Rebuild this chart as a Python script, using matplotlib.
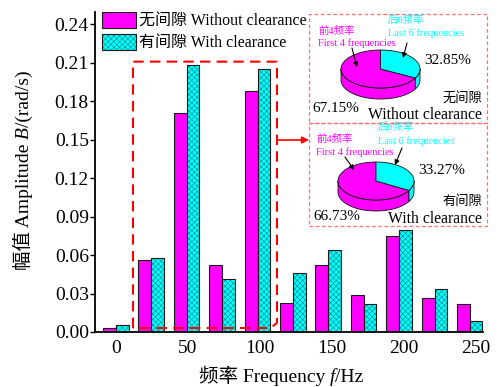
import numpy as np
import matplotlib
matplotlib.use("Agg")
import matplotlib.pyplot as plt
from matplotlib.patches import Polygon, Rectangle, FancyArrowPatch
from matplotlib.legend_handler import HandlerTuple
from matplotlib.transforms import IdentityTransform

# ---------------- data ----------------
freqs = [0, 24.3, 49.2, 73.6, 98.4, 122.9, 147.2, 172.0, 196.5, 221.3, 245.8]
amp_without = [0.003, 0.056, 0.171, 0.052, 0.188, 0.0226, 0.052, 0.0288, 0.0748, 0.0265, 0.0218]
amp_with = [0.0055, 0.0576, 0.208, 0.0413, 0.2046, 0.046, 0.064, 0.0218, 0.0797, 0.0335, 0.0088]
yticks = [0.00, 0.03, 0.06, 0.09, 0.12, 0.15, 0.18, 0.21, 0.24]
xticks = [0, 50, 100, 150, 200, 250]
pie_without = [67.15, 32.85]   # first 4, last 6
pie_with = [66.73, 33.27]
series_labels = ["无间隙 Without clearance", "有间隙 With clearance"]

# ---------------- style ----------------
FAM = ['Liberation Serif', 'Noto Sans CJK SC']
plt.rcParams['font.family'] = FAM
plt.rcParams['hatch.linewidth'] = 0.45

MAG = '#ff00ff'
CYA = '#00ffff'
HATCH_C = '#0a8f8f'

W, H = 503, 387
fig = plt.figure(figsize=(W / 100, H / 100), dpi=100)
ax = fig.add_axes([95 / W, 1 - 332 / H, 388 / W, 320 / H])

x = np.array(freqs)
bw = 8.7
off = 4.4
ax.bar(x - off, amp_without, width=bw, color=MAG, edgecolor='#1a1a1a', lw=0.8, zorder=2)
ax.bar(x + off, amp_with, width=bw, color=CYA, edgecolor=HATCH_C, hatch='xxxxxx', lw=0, zorder=2)
ax.bar(x + off, amp_with, width=bw, fill=False, edgecolor='#1a1a1a', lw=0.8, zorder=3)

ax.set_xlim(-14.6, 254.9)
ax.set_ylim(0, 0.2494)
ax.set_yticks(yticks)
ax.set_yticklabels([f"{v:.2f}" for v in yticks])
ax.set_xticks(xticks)
ax.set_xticklabels([str(v) for v in xticks])
ax.tick_params(axis='y', direction='out', length=3.5, width=1, pad=1, labelsize=14)
ax.tick_params(axis='x', direction='in', length=4, width=1, pad=6, labelsize=14)
for s in ['top', 'right']:
    ax.spines[s].set_visible(False)
for s in ['left', 'bottom']:
    ax.spines[s].set_linewidth(1.3)

# legend
h1 = Rectangle((0, 0), 1, 1, facecolor=MAG, edgecolor='#1a1a1a', lw=0.8)
h2a = Rectangle((0, 0), 1, 1, facecolor=CYA, edgecolor=HATCH_C, hatch='xxxxxx', lw=0)
h2b = Rectangle((0, 0), 1, 1, fill=False, edgecolor='#1a1a1a', lw=0.8)
leg = fig.legend([h1, (h2a, h2b)], series_labels,
                 handler_map={tuple: HandlerTuple(ndivide=1, pad=0)},
                 loc='upper left', bbox_to_anchor=(102 / W, 1 - 12 / H),
                 bbox_transform=fig.transFigure, frameon=False, fontsize=11.5,
                 handlelength=2.15, handleheight=1.2, handletextpad=0.15,
                 labelspacing=0.25, borderpad=0, borderaxespad=0)

# red dashed zoom box
rx0, rx1, ry0, ry1 = 11.8, 111.8, 0.0031, 0.2107
ax.plot([rx0, rx0, rx1, rx1, rx1 - 4.5, rx0], [ry0, ry1, ry1, ry0 + 0.004, ry0, ry0],
        color='#ff0000', lw=1.5, dashes=(5, 3), zorder=4, clip_on=False)
ax.annotate("", xy=(309 / W, 1 - 140 / H), xycoords='figure fraction',
            xytext=(rx1 + 0.5, 0.1496), textcoords='data',
            arrowprops=dict(arrowstyle='-|>', color='#ff0000', lw=1.2, mutation_scale=10,
                            shrinkA=0, shrinkB=0))


# ---------------- pie insets ----------------
def pie3d(iax, cx, cy, a, b, depth, vals):
    frac_c = vals[1] / sum(vals)
    start = 90.0
    cyan_rng = (start - 360 * frac_c, start)
    mag_rng = (start - 360, start - 360 * frac_c)

    def pts(t0, t1, n=80, dy=0.0):
        t = np.radians(np.linspace(t0, t1, n))
        return np.column_stack([cx + a * np.cos(t), cy - b * np.sin(t) + dy])

    def side(rng, color):
        lo, hi = rng
        for shift in (0, 360, -360):
            l, h = lo + shift, hi + shift
            s0, s1 = max(l, -180), min(h, 0)
            if s1 > s0:
                top = pts(s0, s1)
                bot = pts(s1, s0, dy=depth)
                iax.add_patch(Polygon(np.vstack([top, bot]), closed=True, facecolor=color,
                                      edgecolor='#111111', lw=0.6, zorder=2))
    side(mag_rng, MAG)
    side(cyan_rng, CYA)
    for rng, color in ((mag_rng, MAG), (cyan_rng, CYA)):
        arc = pts(rng[0], rng[1], n=120)
        poly = np.vstack([[cx, cy], arc])
        iax.add_patch(Polygon(poly, closed=True, facecolor=color, edgecolor='#111111',
                              lw=0.6, zorder=3))


def inset(x0, y0, w, h):
    iax = fig.add_axes([x0 / W, 1 - (y0 + h) / H, w / W, h / H])
    iax.set_xlim(0, w)
    iax.set_ylim(h, 0)
    iax.axis('off')
    fig.add_artist(Rectangle((x0 / W, 1 - (y0 + h) / H), w / W, h / H, transform=fig.transFigure,
                             fill=False, edgecolor='#ff6f6f', lw=0.9, linestyle=(0, (3, 2)),
                             zorder=5))
    return iax


def annotate_pie(iax, vals, p, cjk, eng):
    (m1, m2, c1, c2, pc, pm, cj, en, am, ac) = p
    iax.text(*m1, "前4频率", color=MAG, fontsize=7.5, ha='left', va='center')
    iax.text(*m2, "First 4 frequencies", color=MAG, fontsize=7.5, ha='left', va='center')
    iax.text(*c1, "后6频率", color=CYA, fontsize=7.5, ha='left', va='center')
    iax.text(*c2, "Last 6 frequencies", color=CYA, fontsize=7.5, ha='left', va='center')
    iax.text(*pc, f"{vals[1]:.2f}%", fontsize=11, ha='left', va='center')
    iax.text(*pm, f"{vals[0]:.2f}%", fontsize=11, ha='left', va='center')
    iax.text(*cj, cjk, fontsize=9.5, ha='right', va='center')
    iax.text(*en, eng, fontsize=11.3, ha='right', va='center')
    for (s, e) in (am, ac):
        arr = FancyArrowPatch(s, e, arrowstyle='-|>', color='black', lw=0.8,
                              mutation_scale=7, shrinkA=0, shrinkB=0, zorder=8)
        iax.add_patch(arr)


ia1 = inset(309, 14, 178, 109)
pie3d(ia1, 71.5, 55, 39.5, 19, 11, pie_without)
annotate_pie(ia1, pie_without,
             ((9, 17), (9, 29), (79, 6), (79, 19), (115, 46), (3, 95), (173, 84), (173, 101),
              ((43, 34), (48, 53)), ((98, 29), (94, 44))),
             "无间隙", "Without clearance")

ia2 = inset(309, 123, 178, 103)
pie3d(ia2, 67, 58, 38, 19, 11, pie_with)
annotate_pie(ia2, pie_with,
             ((7, 16), (7, 29), (69, 4), (69, 18), (109, 48), (4, 94), (173, 79), (173, 96),
              ((36, 34), (45, 47)), ((93, 25), (86, 42))),
             "有间隙", "With clearance")


# ---------------- axis titles built from pieces (CJK + italic symbol) ----------------
def piece_label(pieces, cx, cy, rotation, fs=14):
    r = fig.canvas.get_renderer()
    probe_a = fig.text(0, 0, "aa", fontsize=fs, transform=IdentityTransform())
    probe_b = fig.text(0, 0, "a a", fontsize=fs, transform=IdentityTransform())
    gap = probe_b.get_window_extent(r).width - probe_a.get_window_extent(r).width
    probe_a.remove()
    probe_b.remove()
    items = []
    for s, style, space_before in pieces:
        t = fig.text(0, 0, s, fontsize=fs, fontstyle=style, rotation=rotation,
                     rotation_mode='anchor', ha='left', va='baseline',
                     transform=IdentityTransform())
        bb = t.get_window_extent(r)
        ln = bb.width if rotation == 0 else bb.height
        items.append((t, ln, gap if space_before else 0.0))
    total = sum(ln + g for _, ln, g in items)
    pos = -total / 2
    for t, ln, g in items:
        pos += g
        if rotation == 0:
            t.set_position((cx + pos, cy))
        else:
            t.set_position((cx, cy + pos))
        pos += ln


piece_label([("频率 Frequency", 'normal', False), ("f", 'italic', True), ("/Hz", 'normal', False)],
            281, 5, 0)
piece_label([("幅值 Amplitude", 'normal', False), ("B", 'italic', True), ("/(rad/s)", 'normal', False)],
            29, 217, 90)

fig.savefig("out.png", dpi=100)
